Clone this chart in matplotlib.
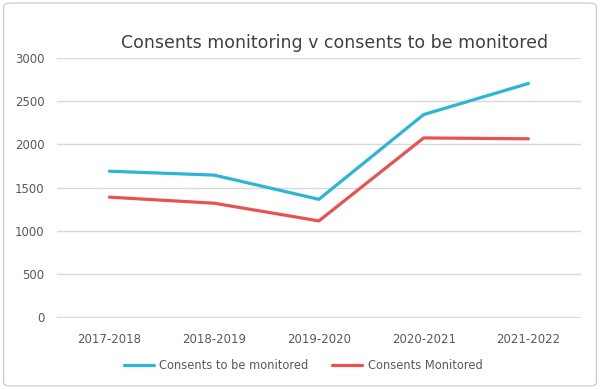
import matplotlib
matplotlib.use("Agg")
import matplotlib.pyplot as plt
from matplotlib.patches import FancyBboxPatch

years = ['2017-2018', '2018-2019', '2019-2020', '2020-2021', '2021-2022']
to_be_monitored = [1690, 1645, 1365, 2345, 2705]
monitored = [1390, 1320, 1115, 2075, 2065]

BLUE = '#2bb5d6'
RED = '#e8534f'
GREY = '#595959'

fig = plt.figure(figsize=(6, 3.89), dpi=100)
ax = fig.add_axes([0.095, 0.1825, 0.873, 0.6685])

x = list(range(len(years)))
ax.plot(x, to_be_monitored, color=BLUE, lw=2.3, solid_capstyle='round',
        label='Consents to be monitored')
ax.plot(x, monitored, color=RED, lw=2.3, solid_capstyle='round',
        label='Consents Monitored')

ax.set_xlim(-0.5, len(years) - 0.5)
ax.set_ylim(-8, 3000)
ax.set_yticks(range(0, 3001, 500))
ax.set_xticks(x)
ax.set_xticklabels(years)
ax.grid(axis='y', color='#d9d9d9', lw=1)
ax.set_axisbelow(True)
for s in ax.spines.values():
    s.set_visible(False)
ax.tick_params(length=0, colors=GREY, labelsize=8.5)
ax.tick_params(axis='x', pad=11)
ax.tick_params(axis='y', pad=9)

fig.text(0.558, 0.89, 'Consents monitoring v consents to be monitored',
         ha='center', va='center', fontsize=12.5, color='#404040')

fig.legend(loc='center', bbox_to_anchor=(0.505, 0.06), ncol=2, frameon=False,
           fontsize=8.3, handlelength=2.6, handletextpad=0.5,
           columnspacing=2.0, labelcolor=GREY)

# chart border
fig.patches.append(FancyBboxPatch((0.006, 0.008), 0.988, 0.984,
                                  boxstyle='round,pad=0,rounding_size=0.01',
                                  transform=fig.transFigure, fill=False,
                                  edgecolor='#d0d0d0', lw=1))

fig.savefig('out.png', dpi=100)
